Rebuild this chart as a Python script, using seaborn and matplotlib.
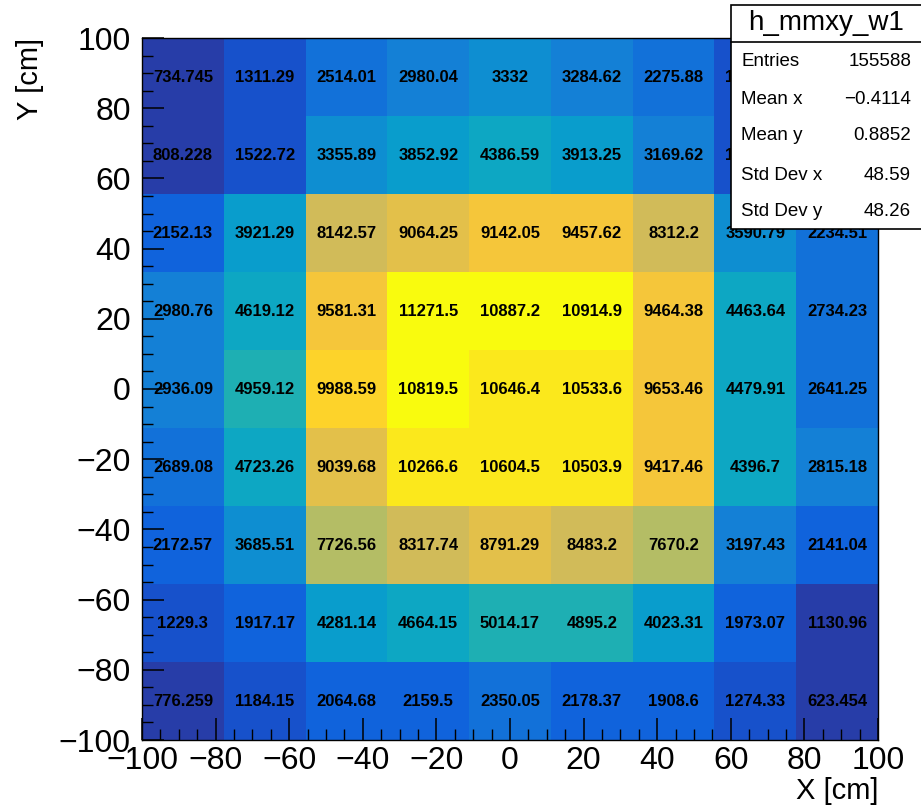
import numpy as np
import pandas as pd
import seaborn as sns
import matplotlib.pyplot as plt
from matplotlib.colors import LinearSegmentedColormap, ListedColormap
from matplotlib.patches import Rectangle
from matplotlib.lines import Line2D
from matplotlib.ticker import MultipleLocator

# bin contents, rows from top (y ~ +89) to bottom (y ~ -89), columns from x = -100 to 100
row1 = [734.745, 1311.29, 2514.01, 2980.04, 3332, 3284.62, 2275.88, 1296.41, 702.318]
row2 = [808.228, 1522.72, 3355.89, 3852.92, 4386.59, 3913.25, 3169.62, 1534.87, 819.512]
row3 = [2152.13, 3921.29, 8142.57, 9064.25, 9142.05, 9457.62, 8312.2, 3590.79, 2234.51]
row4 = [2980.76, 4619.12, 9581.31, 11271.5, 10887.2, 10914.9, 9464.38, 4463.64, 2734.23]
row5 = [2936.09, 4959.12, 9988.59, 10819.5, 10646.4, 10533.6, 9653.46, 4479.91, 2641.25]
row6 = [2689.08, 4723.26, 9039.68, 10266.6, 10604.5, 10503.9, 9417.46, 4396.7, 2815.18]
row7 = [2172.57, 3685.51, 7726.56, 8317.74, 8791.29, 8483.2, 7670.2, 3197.43, 2141.04]
row8 = [1229.3, 1917.17, 4281.14, 4664.15, 5014.17, 4895.2, 4023.31, 1973.07, 1130.96]
row9 = [776.259, 1184.15, 2064.68, 2159.5, 2350.05, 2178.37, 1908.6, 1274.33, 623.454]
rows = [row1, row2, row3, row4, row5, row6, row7, row8, row9]

n_bins = 9
x_lo, x_hi = -100, 100

stat_names = ["Entries", "Mean x", "Mean y", "Std Dev x", "Std Dev y"]
stat_values = ["155588", "\u22120.4114", "0.8852", "48.59", "48.26"]
hist_name = "h_mmxy_w1"

edges = np.linspace(x_lo, x_hi, n_bins + 1)
centers = (edges[:-1] + edges[1:]) / 2

records = []
for i, row in enumerate(rows):
    for j, v in enumerate(row):
        records.append({"x": centers[j], "y": centers[::-1][i], "w": v})
df = pd.DataFrame(records)

# ROOT kBird palette, 20 contour levels
stops = [0.0, 0.125, 0.25, 0.375, 0.5, 0.625, 0.75, 0.875, 1.0]
red = [0.2082, 0.0592, 0.0780, 0.0232, 0.1802, 0.5301, 0.8186, 0.9956, 0.9764]
green = [0.1664, 0.3599, 0.5041, 0.6419, 0.7178, 0.7492, 0.7328, 0.7862, 0.9832]
blue = [0.5293, 0.8684, 0.8385, 0.7914, 0.6425, 0.4662, 0.3499, 0.1968, 0.0539]
bird = LinearSegmentedColormap.from_list(
    "bird", [(s, (r, g, b)) for s, r, g, b in zip(stops, red, green, blue)], N=255)
pal255 = bird(np.linspace(0, 1, 255))
n_levels = 20
level_colors = [pal255[int((i + 0.99) * 255 / n_levels)] for i in range(n_levels)]
cmap = ListedColormap(level_colors)

sns.set_style("ticks")
plt.rcParams['font.family'] = ['Liberation Sans', 'DejaVu Sans']
plt.rcParams['text.color'] = 'black'
plt.rcParams['xtick.color'] = 'black'
plt.rcParams['ytick.color'] = 'black'

fig = plt.figure(figsize=(9.21, 8.07), dpi=100)
ax = fig.add_axes([142 / 921, 1 - 740 / 807, 736 / 921, 702 / 807])

sns.histplot(data=df, x="x", y="y", weights="w", bins=n_bins, binrange=(x_lo, x_hi),
             cmap=cmap, vmin=df["w"].min(), vmax=df["w"].max(), ax=ax)
ax.set_axisbelow(False)

for _, r in df.iterrows():
    ax.text(r["x"], r["y"], f"{r['w']:g}", ha="center", va="center",
            fontsize=12, fontweight="bold", color="black")

ax.set_xlim(x_lo, x_hi)
ax.set_ylim(x_lo, x_hi)
ax.xaxis.set_major_locator(MultipleLocator(20))
ax.yaxis.set_major_locator(MultipleLocator(20))
ax.xaxis.set_minor_locator(MultipleLocator(5))
ax.yaxis.set_minor_locator(MultipleLocator(5))
ax.tick_params(which="both", direction="in", top=False, right=False,
               color="black", labelcolor="black")
ax.tick_params(which="major", length=15.8, width=1.1, labelsize=23)
ax.tick_params(which="minor", length=7.9, width=1.0)
ax.tick_params(axis="x", which="major", pad=4)
ax.tick_params(axis="y", which="major", pad=8)
for s in ax.spines.values():
    s.set_color("black")
    s.set_linewidth(1)
    s.set_zorder(5)

ax.set_xlabel("")
ax.set_ylabel("")
fig.text(878 / 921, 1 - 791 / 807, "X [cm]", ha="right", va="center", fontsize=21)
fig.text(30 / 921, 1 - 38 / 807, "Y [cm]", ha="center", va="top", rotation=90, fontsize=21)

# stats box
bx0, by_top, by_sep, by_bot = 731, 5, 42, 229
W, H = 921, 807
fig.add_artist(Rectangle((bx0 / W, 1 - by_bot / H), (W + 5 - bx0) / W, (by_bot - by_top) / H,
                         transform=fig.transFigure, facecolor="white",
                         edgecolor="black", linewidth=1.2, zorder=10))
fig.add_artist(Line2D([bx0 / W, 1], [1 - by_sep / H, 1 - by_sep / H],
                      transform=fig.transFigure, color="black", linewidth=1.2, zorder=11))
fig.text(826 / W, 1 - 23 / H, hist_name, ha="center", va="center", fontsize=20, zorder=12)
row_y = [62, 100, 136, 175, 211]
for name, val, yy in zip(stat_names, stat_values, row_y):
    fig.text(741 / W, 1 - yy / H, name, ha="left", va="center", fontsize=13.5, zorder=12)
    fig.text(911 / W, 1 - yy / H, val, ha="right", va="center", fontsize=13.5, zorder=12)

fig.savefig("out.png", dpi=100)
